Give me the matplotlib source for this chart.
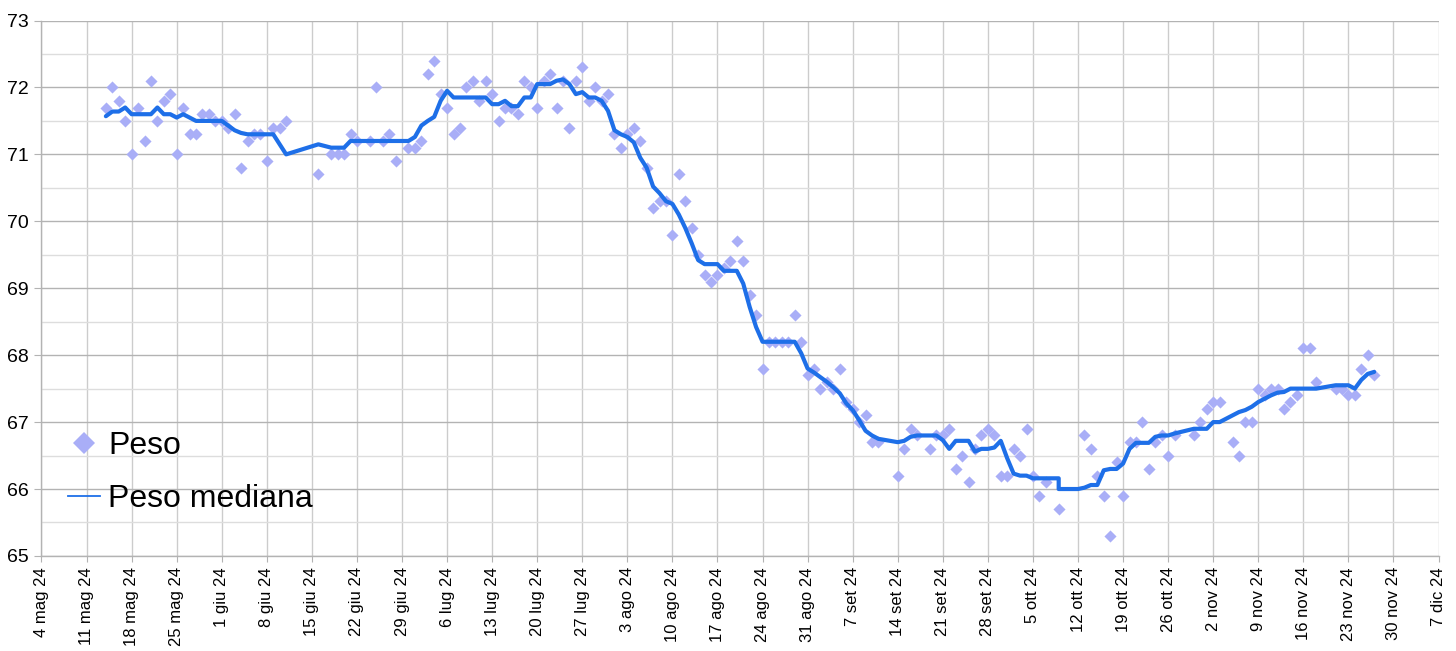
import matplotlib
matplotlib.use("Agg")
import matplotlib.pyplot as plt
from matplotlib.lines import Line2D
from matplotlib.ticker import MultipleLocator

plt.rcParams['font.family'] = ['Liberation Sans', 'DejaVu Sans']

# Days since 4 May 2024
peso_days = [10, 11, 12, 13, 14, 15, 16, 17, 18, 19, 20, 21, 22, 23, 24, 25, 26, 27, 28, 29,
             30, 31, 32, 33, 34, 35, 36, 37, 38, 43, 45, 46, 47, 48, 49, 51, 52, 53, 54, 55,
             57, 58, 59, 60, 61, 62, 63, 64, 65, 66, 67, 68, 69, 70, 71, 72, 73, 74, 75, 76,
             77, 78, 79, 80, 81, 82, 83, 84, 85, 86, 87, 88, 89, 90, 91, 92, 93, 94, 95, 96,
             97, 98, 99, 100, 101, 102, 103, 104, 105, 106, 107, 108, 109, 110, 111, 112, 113, 114, 115, 116,
             117, 118, 119, 120, 121, 122, 123, 124, 125, 126, 127, 128, 129, 130, 133, 134, 135, 136, 138, 139,
             140, 141, 142, 143, 144, 145, 146, 147, 148, 149, 150, 151, 152, 153, 154, 155, 156, 158, 162, 163,
             164, 165, 166, 167, 168, 169, 170, 171, 172, 173, 174, 175, 176, 179, 180, 181, 182, 183, 185, 186,
             187, 188, 189, 190, 191, 192, 193, 194, 195, 196, 197, 198, 201, 202, 203, 204, 205, 206, 207]
peso_vals = [71.7, 72.0, 71.8, 71.5, 71.0, 71.7, 71.2, 72.1, 71.5, 71.8, 71.9, 71.0, 71.7, 71.3, 71.3, 71.6, 71.6, 71.5, 71.5, 71.4,
             71.6, 70.8, 71.2, 71.3, 71.3, 70.9, 71.4, 71.4, 71.5, 70.7, 71.0, 71.0, 71.0, 71.3, 71.2, 71.2, 72.0, 71.2, 71.3, 70.9,
             71.1, 71.1, 71.2, 72.2, 72.4, 71.9, 71.7, 71.3, 71.4, 72.0, 72.1, 71.8, 72.1, 71.9, 71.5, 71.7, 71.7, 71.6, 72.1, 72.0,
             71.7, 72.1, 72.2, 71.7, 72.1, 71.4, 72.1, 72.3, 71.8, 72.0, 71.8, 71.9, 71.3, 71.1, 71.3, 71.4, 71.2, 70.8, 70.2, 70.3,
             70.3, 69.8, 70.7, 70.3, 69.9, 69.5, 69.2, 69.1, 69.2, 69.3, 69.4, 69.7, 69.4, 68.9, 68.6, 67.8, 68.2, 68.2, 68.2, 68.2,
             68.6, 68.2, 67.7, 67.8, 67.5, 67.6, 67.5, 67.8, 67.3, 67.2, 67.0, 67.1, 66.7, 66.7, 66.2, 66.6, 66.9, 66.8, 66.6, 66.8,
             66.8, 66.9, 66.3, 66.5, 66.1, 66.6, 66.8, 66.9, 66.8, 66.2, 66.2, 66.6, 66.5, 66.9, 66.2, 65.9, 66.1, 65.7, 66.8, 66.6,
             66.2, 65.9, 65.3, 66.4, 65.9, 66.7, 66.7, 67.0, 66.3, 66.7, 66.8, 66.5, 66.8, 66.8, 67.0, 67.2, 67.3, 67.3, 66.7, 66.5,
             67.0, 67.0, 67.5, 67.4, 67.5, 67.5, 67.2, 67.3, 67.4, 68.1, 68.1, 67.6, 67.5, 67.5, 67.4, 67.4, 67.8, 68.0, 67.7]

med_days = [10, 11, 12, 13, 14, 15, 16, 17, 18, 19, 20, 21, 22, 23, 24, 25, 26, 27, 28, 29,
            30, 31, 32, 33, 34, 35, 36, 37, 38, 43, 45, 46, 47, 48, 49, 51, 52, 53, 54, 55,
            57, 58, 59, 60, 61, 62, 63, 64, 65, 66, 67, 68, 69, 70, 71, 72, 73, 74, 75, 76,
            77, 78, 79, 80, 81, 82, 83, 84, 85, 86, 87, 88, 89, 90, 91, 92, 93, 94, 95, 96,
            97, 98, 99, 100, 101, 102, 103, 104, 105, 106, 107, 108, 109, 110, 111, 112, 113, 114, 115, 116,
            117, 118, 119, 120, 121, 122, 123, 124, 125, 126, 127, 128, 129, 130, 133, 134, 135, 136, 138, 139,
            140, 141, 142, 143, 144, 145, 146, 147, 148, 149, 150, 151, 152, 153, 154, 155, 156, 158, 158, 161,
            162, 163, 164, 165, 166, 167, 168, 169, 170, 171, 172, 173, 174, 175, 176, 179, 180, 181, 182, 183,
            185, 186, 187, 188, 189, 190, 191, 192, 193, 194, 195, 196, 197, 198, 201, 202, 203, 204, 205, 206, 207]
med_vals = [71.57, 71.64, 71.64, 71.70, 71.6, 71.6, 71.6, 71.6, 71.7, 71.6, 71.6, 71.55, 71.6, 71.55, 71.5, 71.5, 71.5, 71.5, 71.5, 71.43,
            71.36, 71.32, 71.3, 71.3, 71.3, 71.3, 71.3, 71.15, 71.0, 71.15, 71.1, 71.1, 71.1, 71.2, 71.2, 71.2, 71.2, 71.2, 71.2, 71.2,
            71.2, 71.26, 71.43, 71.5, 71.56, 71.8, 71.95, 71.85, 71.85, 71.85, 71.85, 71.85, 71.85, 71.75, 71.75, 71.8, 71.72, 71.72, 71.85, 71.85,
            72.05, 72.05, 72.05, 72.1, 72.12, 72.05, 71.9, 71.93, 71.85, 71.85, 71.8, 71.65, 71.36, 71.3, 71.26, 71.18, 70.95, 70.8, 70.52, 70.42,
            70.3, 70.26, 70.1, 69.9, 69.67, 69.42, 69.36, 69.36, 69.36, 69.26, 69.26, 69.26, 69.07, 68.72, 68.42, 68.2, 68.2, 68.2, 68.2, 68.2,
            68.2, 68.03, 67.8, 67.74, 67.67, 67.6, 67.52, 67.43, 67.28, 67.18, 67.03, 66.87, 66.8, 66.75, 66.7, 66.72, 66.78, 66.8, 66.8, 66.8,
            66.73, 66.6, 66.72, 66.72, 66.72, 66.56, 66.6, 66.6, 66.62, 66.72, 66.46, 66.23, 66.2, 66.2, 66.16, 66.16, 66.16, 66.16, 66.0, 66.0,
            66.02, 66.06, 66.06, 66.28, 66.3, 66.3, 66.38, 66.6, 66.69, 66.69, 66.69, 66.78, 66.8, 66.8, 66.83, 66.9, 66.9, 66.9, 67.0, 67.0,
            67.1, 67.15, 67.18, 67.23, 67.3, 67.35, 67.4, 67.44, 67.45, 67.5, 67.5, 67.5, 67.5, 67.5, 67.55, 67.55, 67.55, 67.5, 67.63, 67.72, 67.75]

tick_labels = ["4 mag 24", "11 mag 24", "18 mag 24", "25 mag 24", "1 giu 24", "8 giu 24", "15 giu 24",
               "22 giu 24", "29 giu 24", "6 lug 24", "13 lug 24", "20 lug 24", "27 lug 24", "3 ago 24",
               "10 ago 24", "17 ago 24", "24 ago 24", "31 ago 24", "7 set 24", "14 set 24", "21 set 24",
               "28 set 24", "5 ott 24", "12 ott 24", "19 ott 24", "26 ott 24", "2 nov 24", "9 nov 24",
               "16 nov 24", "23 nov 24", "30 nov 24", "7 dic 24"]
tick_days = [7 * i for i in range(len(tick_labels))]

PT_COLOR = "#a9aef7"
LN_COLOR = "#1e6fe8"

fig = plt.figure(figsize=(14.56, 6.51), dpi=100)
ax = fig.add_axes([0.0285, 0.146, 0.9595, 0.8225])

ax.set_xlim(0, 217)
ax.set_ylim(65, 73)

ax.scatter(peso_days, peso_vals, marker='D', s=38, color=PT_COLOR, linewidths=0, zorder=3)
ax.plot(med_days, med_vals, color=LN_COLOR, lw=3.0, solid_joinstyle='round', solid_capstyle='round', zorder=4)

ax.set_xticks(tick_days)
ax.set_xticklabels(tick_labels, rotation=90, ha='center', va='top', fontsize=12)
ax.yaxis.set_major_locator(MultipleLocator(1))
ax.yaxis.set_minor_locator(MultipleLocator(0.5))
ax.tick_params(axis='y', which='major', labelsize=14, length=5, color='#b3b3b3', pad=4)
ax.tick_params(axis='y', which='minor', length=0)
ax.tick_params(axis='x', which='major', length=4, color='#b3b3b3', pad=4)

ax.grid(True, which='major', axis='y', color='#b3b3b3', lw=1.0, zorder=0)
ax.grid(True, which='minor', axis='y', color='#dddddd', lw=1.0, zorder=0)
ax.grid(True, which='major', axis='x', color='#cccccc', lw=1.0, zorder=0)
ax.set_axisbelow(True)

for s in ['top', 'right']:
    ax.spines[s].set_visible(False)
for s in ['left', 'bottom']:
    ax.spines[s].set_color('#b3b3b3')
    ax.spines[s].set_linewidth(1.0)

handles = [
    Line2D([], [], marker='D', color=PT_COLOR, linestyle='none', markersize=11, markeredgewidth=0),
    Line2D([], [], color=LN_COLOR, lw=1.3),
]
leg = ax.legend(handles, ["Peso", "Peso mediana"], loc='lower left',
                bbox_to_anchor=(0.010, 0.054), borderaxespad=0, frameon=False, fontsize=23,
                handlelength=1.0, handletextpad=0.25, labelspacing=0.72)

fig.savefig("out.png", dpi=100)
